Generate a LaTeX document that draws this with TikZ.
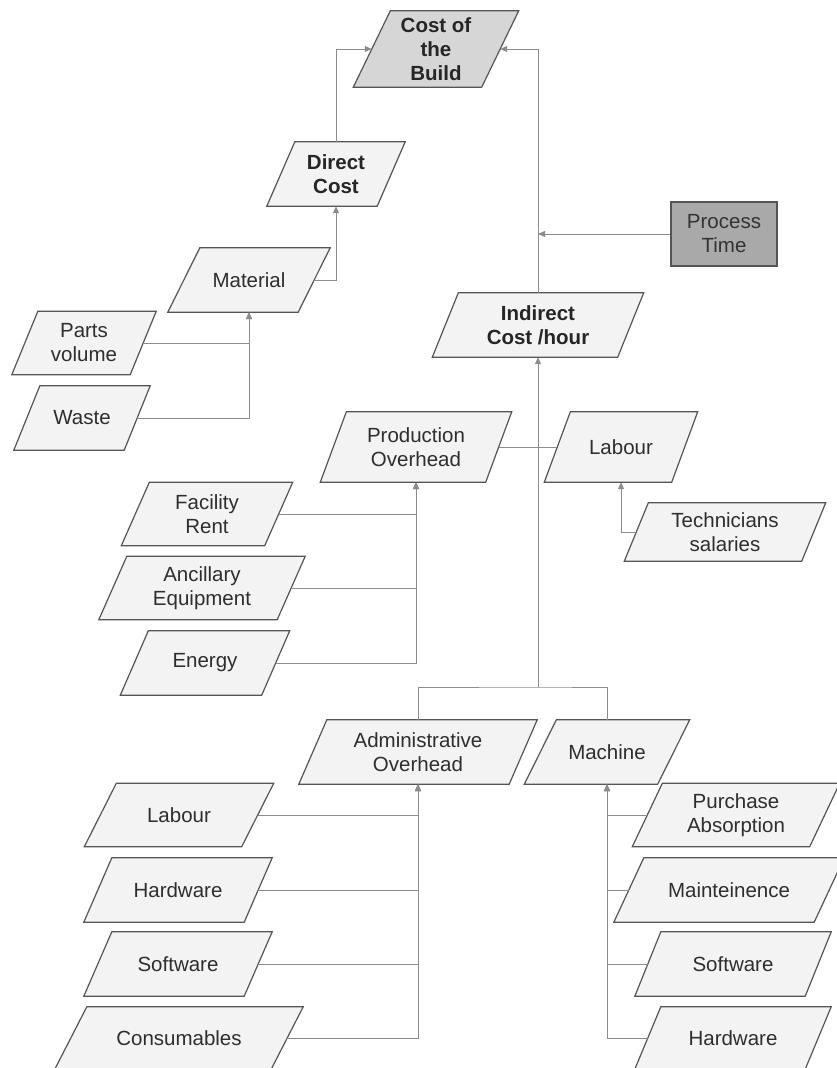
\documentclass[tikz,border=0pt]{standalone}
\usepackage{fontspec}
\setmainfont{Liberation Sans}
\usetikzlibrary{arrows.meta,calc,backgrounds}
\definecolor{bordercol}{HTML}{555555}
\definecolor{linecol}{HTML}{8C8C8C}
\definecolor{boxfill}{HTML}{F3F3F3}
\definecolor{costfill}{HTML}{D6D6D6}
\definecolor{procfill}{HTML}{A9A9A9}
\definecolor{textcol}{HTML}{2E2E2E}
\begin{document}
\begin{tikzpicture}[x=1pt,y=-1pt,
  box/.style={inner sep=0pt, align=center, text=textcol,
    font=\fontsize{20.5}{24}\selectfont},
  bbox/.style={box, text=black!85, font=\fontsize{20.5}{24}\selectfont\bfseries},
  procbox/.style={box, text=black!80, draw=bordercol, fill=procfill, line width=1.2pt},
  conn/.style={draw=linecol, line width=1pt},
  arr/.style={conn, -{Triangle[length=7pt,width=6pt]}}]
\useasboundingbox (0,0) rectangle (837,1068);
% nodes
\node[bbox, minimum width=128pt, minimum height=76pt] (cost) at (436,49) {Cost of\\the\\Build};
\node[bbox, minimum width=110pt, minimum height=64pt] (direct) at (336,174) {Direct\\Cost};
\node[box, minimum width=130pt, minimum height=64pt] (material) at (249,280) {Material};
\node[box, minimum width=118pt, minimum height=63pt] (parts) at (84,343) {Parts\\volume};
\node[box, minimum width=110pt, minimum height=64pt] (waste) at (82,418) {Waste};
\node[bbox, minimum width=185pt, minimum height=64pt] (indirect) at (538,325) {Indirect\\Cost /hour};
\node[procbox, minimum width=106pt, minimum height=64pt] (process) at (724,234) {Process\\Time};
\node[box, minimum width=165pt, minimum height=70pt] (prod) at (416,447) {Production\\Overhead};
\node[box, minimum width=127pt, minimum height=70pt] (labourR) at (621,447) {Labour};
\node[box, minimum width=177pt, minimum height=58pt] (tech) at (725,532) {Technicians\\salaries};
\node[box, minimum width=143pt, minimum height=63pt] (facility) at (207,514) {Facility\\Rent};
\node[box, minimum width=178pt, minimum height=63pt] (ancillary) at (202,588) {Ancillary\\Equipment};
\node[box, minimum width=141pt, minimum height=64pt] (energy) at (205,663) {Energy};
\node[box, minimum width=210pt, minimum height=64pt] (admin) at (418,752) {Administrative\\Overhead};
\node[box, minimum width=133pt, minimum height=64pt] (machine) at (607,752) {Machine};
\node[box, minimum width=157pt, minimum height=63pt] (labourL) at (179,815) {Labour};
\node[box, minimum width=160pt, minimum height=64pt] (hardwareL) at (178,890) {Hardware};
\node[box, minimum width=160pt, minimum height=64pt] (softwareL) at (178,964) {Software};
\node[box, minimum width=216pt, minimum height=62pt] (consum) at (179,1038) {Consumables};
\node[box, minimum width=177pt, minimum height=63pt] (purchase) at (736,815) {Purchase\\Absorption};
\node[box, minimum width=200pt, minimum height=64pt] (maint) at (729,890) {Mainteinence};
\node[box, minimum width=170pt, minimum height=64pt] (softwareR) at (733,964) {Software};
\node[box, minimum width=170pt, minimum height=62pt] (hardwareR) at (733,1038) {Hardware};
% parallelogram outlines
\begin{scope}[on background layer]
\foreach \n/\s/\f in {cost/18.5/costfill, direct/14/boxfill, material/16/boxfill,
  parts/13/boxfill, waste/13/boxfill, indirect/13/boxfill, prod/13/boxfill,
  labourR/13/boxfill, tech/12/boxfill, facility/14/boxfill, ancillary/14/boxfill,
  energy/14/boxfill, admin/14/boxfill, machine/16/boxfill, labourL/16/boxfill,
  hardwareL/14/boxfill, softwareL/14/boxfill, consum/16/boxfill, purchase/15/boxfill,
  maint/15/boxfill, softwareR/13/boxfill, hardwareR/13/boxfill}
  \path[draw=bordercol, fill=\f, line width=1.2pt, line join=miter]
    ($(\n.north west)+(\s,0)$) -- ($(\n.north east)+(\s,0)$) --
    ($(\n.south east)-(\s,0)$) -- ($(\n.south west)-(\s,0)$) -- cycle;
\end{scope}
% connectors
\coordinate (tj) at (538,687);
\draw[arr] (direct.north) |- (cost.west);
\draw[arr] (indirect.north) |- (cost.east);
\draw[arr] (process.west) -- (indirect.north |- process.west);
\draw[arr] (material.east) -| (direct.south);
\draw[arr] (parts.east) -| (material.south);
\draw[arr] (waste.east) -| (material.south);
\draw[arr] (tj) -- (indirect.south);
\draw[conn] (admin.north) |- (tj) -| (machine.north);
\draw[conn] (prod.east) -- (labourR.west);
\draw[arr] (tech.west) -| (labourR.south);
\draw[arr] (facility.east) -| (prod.south);
\draw[arr] (ancillary.east) -| (prod.south);
\draw[arr] (energy.east) -| (prod.south);
\draw[arr] (labourL.east) -| (admin.south);
\draw[arr] (hardwareL.east) -| (admin.south);
\draw[arr] (softwareL.east) -| (admin.south);
\draw[arr] (consum.east) -| (admin.south);
\draw[arr] (purchase.west) -| (machine.south);
\draw[arr] (maint.west) -| (machine.south);
\draw[arr] (softwareR.west) -| (machine.south);
\draw[arr] (hardwareR.west) -| (machine.south);
\end{tikzpicture}
\end{document}
